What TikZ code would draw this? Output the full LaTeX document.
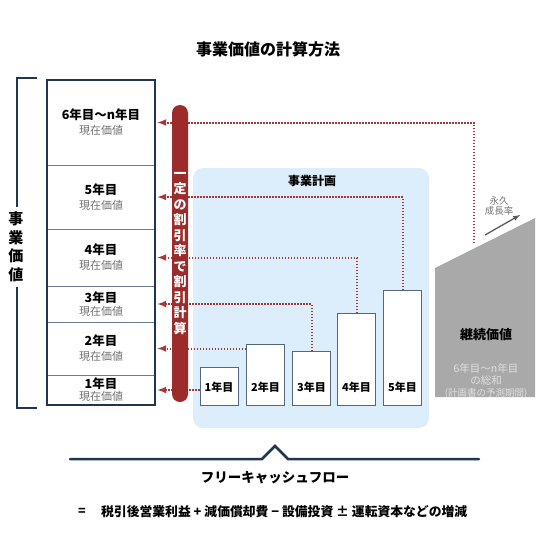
\documentclass[tikz,border=0pt]{standalone}
\usepackage{fontspec}
\setmainfont{Noto Sans CJK JP}
\usetikzlibrary{arrows}
\definecolor{navy}{HTML}{1F3550}
\definecolor{segline}{HTML}{6A7C90}
\definecolor{barline}{HTML}{55677A}
\definecolor{pillred}{HTML}{9C2B2B}
\definecolor{dotred}{HTML}{A83838}
\definecolor{planbg}{HTML}{DCEDFB}
\definecolor{cvgray}{HTML}{A9A9A9}
\definecolor{txtgray}{HTML}{707070}
\tikzset{
  seg/.style={draw=segline, line width=0.8pt, minimum width=108pt, inner sep=0pt,
    align=center, font=\bfseries\fontsize{12.5}{15}\selectfont},
  bar/.style={draw=barline, line width=1pt, fill=white, minimum width=38pt,
    inner sep=0pt, anchor=south},
  barlbl/.style={font=\bfseries\fontsize{11}{13}\selectfont},
  flow/.style={draw=dotred, line width=2pt, dash pattern=on 1.5pt off 1.5pt,
    -latex, shorten >=2pt},
  pill/.style={fill=pillred, text=white, rounded corners=8pt, minimum width=16pt,
    inner sep=0pt, align=center, font=\bfseries\fontsize{13}{15.5}\selectfont},
}
\newcommand{\pv}{{\mdseries\color{txtgray}\fontsize{11}{13}\selectfont 現在価値}}
\begin{document}
\begin{tikzpicture}[x=1pt,y=-1pt]
     \useasboundingbox (0,0) rectangle (536,560);
     \node[font=\bfseries\fontsize{16}{18}\selectfont] at (268,49) (title) {事業価値の計算方法};
     % business plan area and terminal value
     \fill[planbg, rounded corners=10pt] (193,168) rectangle (429,428);
     \node[font=\bfseries\fontsize{12}{14}\selectfont] at (312,181) (plan) {事業計画};
     \fill[cvgray] (435,268) -- (535,218) -- (535,397) -- (435,397) -- cycle;
     % stack of present values
     \node[seg, minimum height=85pt] at (101,122.5) (s6) {6年目〜n年目\\\pv};
     \node[seg, minimum height=64pt] at (101,197) (s5) {5年目\\\pv};
     \node[seg, minimum height=57pt] at (101,257.5) (s4) {4年目\\\pv};
     \node[seg, minimum height=36pt] at (101,304) (s3) {3年目\\[-2pt]\pv};
     \node[seg, minimum height=53pt] at (101,348.5) (s2) {2年目\\\pv};
     \node[seg, minimum height=30pt] at (101,390) (s1) {1年目\\[-3pt]\pv};
     \draw[navy, line width=2pt] (s6.north west) rectangle (s1.south east);
     \draw[navy, line width=2pt] (37,78) -- (17,78) -- (17,207)
                                 (17,287) -- (17,408) -- (37,408);
     \node[font=\bfseries\fontsize{15}{18.5}\selectfont, align=center] at (16,247) (ev) {事\\業\\価\\値};
     % yearly bars
     \node[bar, minimum height=38pt] at (219,406) (b1) {};
     \node[bar, minimum height=61pt] at (265.5,406) (b2) {};
     \node[bar, minimum height=54pt] at (311.5,406) (b3) {};
     \node[bar, minimum height=92pt] at (356.5,406) (b4) {};
     \node[bar, minimum height=115pt] at (402.5,406) (b5) {};
     \node[barlbl] at (219,387) (l1) {1年目};
     \node[barlbl] at (265.5,387) (l2) {2年目};
     \node[barlbl] at (311.5,387) (l3) {3年目};
     \node[barlbl] at (356.5,387) (l4) {4年目};
     \node[barlbl] at (402.5,387) (l5) {5年目};
     % discounting
     \coordinate (gtop) at (474,243);
     \draw[flow] (gtop) |- (s6.east);
     \draw[flow] (b5.north) |- (s5.east);
     \draw[flow] (b4.north) |- (s4.east);
     \draw[flow] (b3.north) |- (s3.east);
     \draw[flow] (b2.west |- s2.east) -- (s2.east);
     \draw[flow] (b1.west |- s1.east) -- (s1.east);
     \node[pill, minimum height=297pt] at (180,253.5) (rate) {一\\定\\の\\割\\引\\率\\で\\割\\引\\計\\算};
     % terminal value
     \node[font=\bfseries\fontsize{13}{15}\selectfont] at (486,335) (tv) {継続価値};
     \node[text=white!88!black, align=center, inner sep=0pt] at (486,381) (tvsum)
          {\fontsize{10.5}{12.5}\selectfont 6年目〜n年目\\\fontsize{10.5}{12.5}\selectfont の総和\\\fontsize{9.5}{13}\selectfont (計画書の予測期間)};
     \coordinate (g0) at (485,235);
     \coordinate (g1) at (520,215);
     \draw[-latex, black!65, line width=1.3pt] (g0) -- (g1);
     \node[text=black!55, align=center, inner sep=0pt, font=\fontsize{9.5}{10}\selectfont] at (499,206) (grow) {永久\\成長率};
     % free cash flow
     \draw[navy, line width=2.5pt, line cap=round] (70,459) -- (262,459) -- (275,446) -- (288,459) -- (479,459);
     \node[font=\bfseries\fontsize{13.5}{16}\selectfont] at (275,478) (fcf) {フリーキャッシュフロー};
     \node[font=\bfseries\fontsize{12.5}{14}\selectfont] at (82,512) (eq) {=};
     \node[font=\bfseries\fontsize{12.8}{14}\selectfont, anchor=west, inner sep=0pt] at (101,512) (formula)
          {税引後営業利益 + 減価償却費 − 設備投資 ± 運転資本などの増減};
\end{tikzpicture}
\end{document}
